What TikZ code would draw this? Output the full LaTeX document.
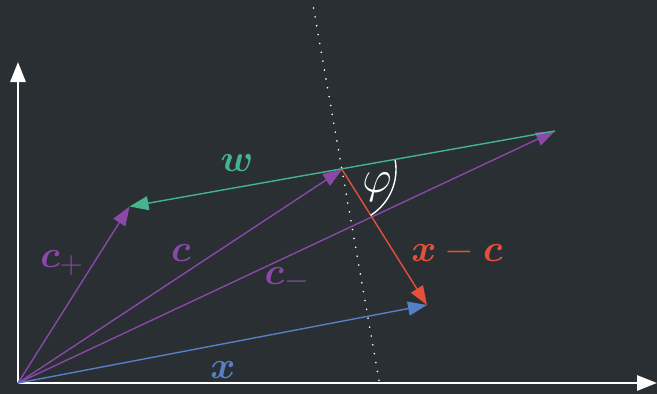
\documentclass[tikz,border=0pt]{standalone}
\usepackage{amsmath}
\usepackage{bm}
\usetikzlibrary{arrows.meta}
\definecolor{bgc}{HTML}{292F32}
\definecolor{vpurple}{HTML}{8A48A8}
\definecolor{vgreen}{HTML}{45B48E}
\definecolor{vblue}{HTML}{5580C8}
\definecolor{vred}{HTML}{E5503A}
\tikzset{
  axis/.style={white, line width=2.8pt, -{Triangle[length=20pt,width=15pt]}},
  vec/.style={line width=1.4pt, -{Triangle[length=19pt,width=14pt]}},
  lbl/.style={font=\Huge, scale=1.53, inner sep=0pt},
  dotline/.style={white, line width=1.8pt, line cap=round, dash pattern=on 0pt off 9pt},
}
\begin{document}
\begin{tikzpicture}[x=1pt,y=-1pt]
\fill[bgc] (0,0) rectangle (657,394);
\useasboundingbox (0,0) rectangle (657,394);
\coordinate (O) at (18,383);
\coordinate (ytop) at (18,62);
\coordinate (xend) at (657,383);
\coordinate (cp) at (129.5,206.5);
\coordinate (c) at (342,169.5);
\coordinate (cm) at (555,131);
\coordinate (xv) at (427,305);
\coordinate (dtop) at (313.5,8);
\coordinate (dbot) at (379.5,383);
% dotted perpendicular
\draw[dotline] (dtop) -- (dbot);
% axes
\draw[axis] (O) -- (ytop);
\draw[axis] (O) -- (xend);
% vectors
\draw[vec, vpurple] (O) -- (cp);
\draw[vec, vpurple] (O) -- (c);
\draw[vec, vpurple] (O) -- (cm);
\draw[vec, vblue] (O) -- (xv);
\draw[vec, vgreen] (cm) -- (cp);
\draw[vec, vred] (c) -- (xv);
% angle
\draw[white, line width=1.4pt] (c) ++(-10:54) arc[start angle=-10, end angle=58, radius=54];
% labels
\node[lbl, vgreen] (lw) at (237,163) {$\bm{w}$};
\node[lbl, vpurple] (lcp) at (62,263) {$\bm{c}_+$};
\node[lbl, vpurple] (lc) at (181,253) {$\bm{c}$};
\node[lbl, vpurple] (lcm) at (287,280) {$\bm{c}_-$};
\node[lbl, vblue] (lx) at (223,370) {$\bm{x}$};
\node[lbl, vred] (lxc) at (457,252) {$\bm{x}-\bm{c}$};
\node[lbl, white, scale=1.2] (lphi) at (377,187) {$\varphi$};
\end{tikzpicture}
\end{document}
